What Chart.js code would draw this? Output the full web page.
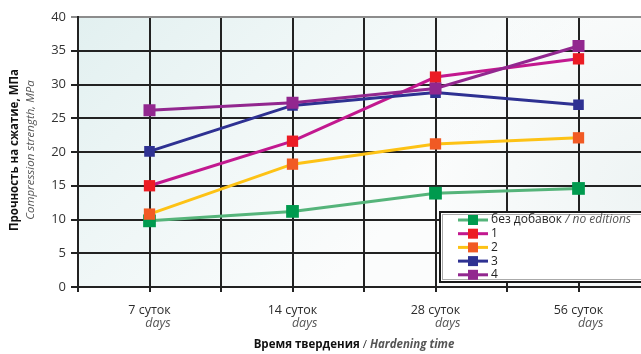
<!DOCTYPE html>
<html>
<head>
<meta charset="utf-8">
<script src="https://cdn.jsdelivr.net/npm/chart.js@4/dist/chart.umd.min.js"></script>
<style>
  html, body { margin: 0; padding: 0; background: #fff; overflow: hidden; }
  #wrap { width: 660px; height: 354px; }
</style>
</head>
<body>
<div id="wrap"><canvas id="c" width="660" height="354"></canvas></div>
<script>
// Hardening time, days
const categories = ['7', '14', '28', '56'];
const unitRu = 'суток';
const unitEn = 'days';

// Compressive strength, MPa
const noAdditive = [9.8, 11.2, 13.9, 14.6];
const mix1 = [15.0, 21.6, 31.1, 33.8];
const mix2 = [10.8, 18.2, 21.2, 22.1];
const mix3 = [20.1, 26.9, 28.8, 27.0];
const mix4 = [26.2, 27.3, 29.4, 35.7];

const seriesNames = ['без добавок', '1', '2', '3', '4'];
const seriesNotes = [' / no editions', '', '', '', ''];
const yMin = 0, yMax = 40, yStep = 5;

const FONT = '"Open Sans", "Noto Sans", sans-serif';

const lineColors = ['#55b47a', '#c2188f', '#fdc215', '#2e3192', '#92278f'];
const markColors = ['#009a4e', '#ec1c24', '#f15a24', '#2e3192', '#92278f'];
const markRadius = [9, 8, 8, 7.5, 8.5];
const seriesData = [noAdditive, mix1, mix2, mix3, mix4];

const datasets = seriesData.map((d, i) => ({
  label: seriesNames[i],
  data: d,
  borderColor: lineColors[i],
  backgroundColor: markColors[i],
  pointBackgroundColor: markColors[i],
  pointBorderWidth: 0,
  pointStyle: 'rect',
  pointRadius: markRadius[i],
  borderWidth: 3,
  tension: 0,
  xAxisID: 'x',
  order: 4 - i
}));

// light teal wash behind the plot, strongest in the upper left corner
const plotBackground = {
  id: 'plotBackground',
  beforeDraw(chart) {
    const { ctx, chartArea: a } = chart;
    ctx.save();
    ctx.fillStyle = '#fbfcfc';
    ctx.fillRect(a.left, a.top, a.right - a.left, a.bottom - a.top);
    const g = ctx.createLinearGradient(a.left, a.top, a.left + 260, a.top + 260);
    g.addColorStop(0, '#e2f0f0');
    g.addColorStop(0.45, '#eef6f6');
    g.addColorStop(1, '#fbfcfc');
    ctx.fillStyle = g;
    ctx.fillRect(a.left, a.top, a.right - a.left, a.bottom - a.top);
    const r = ctx.createRadialGradient(a.right, a.top + 170, 10, a.right, a.top + 170, 220);
    r.addColorStop(0, 'rgba(228,238,238,0.55)');
    r.addColorStop(1, 'rgba(228,238,238,0)');
    ctx.fillStyle = r;
    ctx.fillRect(a.left, a.top, a.right - a.left, a.bottom - a.top);
    ctx.restore();
  }
};

// axis titles, two-line category labels and the boxed legend
const annotations = {
  id: 'annotations',
  afterDraw(chart) {
    const { ctx } = chart;
    const xs = chart.scales.x;
    ctx.save();
    ctx.textBaseline = 'middle';

    // category labels
    categories.forEach((c, i) => {
      const px = xs.getPixelForValue(i);
      const top = c + ' ' + unitRu;
      ctx.font = '12.5px ' + FONT;
      ctx.fillStyle = '#2b2b2b';
      ctx.textAlign = 'center';
      ctx.fillText(top, px, 310);
      const w = ctx.measureText(top).width;
      ctx.font = 'italic 12.5px ' + FONT;
      ctx.fillStyle = '#555';
      ctx.textAlign = 'right';
      ctx.fillText(unitEn, px + w / 2, 323);
    });

    // x title
    const p1 = 'Время твердения', p2 = ' / ', p3 = 'Hardening time';
    ctx.font = 'bold 11.5px ' + FONT;
    const w1 = ctx.measureText(p1).width;
    ctx.font = '11.5px ' + FONT;
    const w2 = ctx.measureText(p2).width;
    ctx.font = 'italic bold 11.5px ' + FONT;
    const w3 = ctx.measureText(p3).width;
    let sx = 354 - (w1 + w2 + w3) / 2;
    ctx.textAlign = 'left';
    ctx.font = 'bold 11.5px ' + FONT; ctx.fillStyle = '#111';
    ctx.fillText(p1, sx, 345); sx += w1;
    ctx.font = '11.5px ' + FONT; ctx.fillStyle = '#333';
    ctx.fillText(p2, sx, 345); sx += w2;
    ctx.font = 'italic bold 11.5px ' + FONT; ctx.fillStyle = '#555';
    ctx.fillText(p3, sx, 345);

    // y title
    ctx.save();
    ctx.translate(15, 150);
    ctx.rotate(-Math.PI / 2);
    ctx.textAlign = 'center';
    ctx.font = 'bold 11.5px ' + FONT; ctx.fillStyle = '#111';
    ctx.fillText('Прочность на сжатие, МПа', 0, 0);
    ctx.font = 'italic 11.5px ' + FONT; ctx.fillStyle = '#555';
    ctx.fillText('Compression strength, MPa', 0, 16);
    ctx.restore();

    // legend
    const lx = 440, ly = 212, lw = 230, lh = 70;
    ctx.fillStyle = '#fff';
    ctx.fillRect(lx, ly, lw, lh);
    ctx.strokeStyle = '#aaa';
    ctx.lineWidth = 1;
    ctx.strokeRect(lx + 2.5, ly + 2.5, lw - 5, lh - 5);
    ctx.strokeStyle = '#1a1a1a';
    ctx.lineWidth = 2;
    ctx.strokeRect(lx, ly, lw, lh);
    seriesNames.forEach((name, i) => {
      const y = 220 + i * 13.7;
      ctx.strokeStyle = lineColors[i];
      ctx.lineWidth = 3;
      ctx.beginPath();
      ctx.moveTo(458, y); ctx.lineTo(488, y);
      ctx.stroke();
      ctx.fillStyle = markColors[i];
      ctx.fillRect(468, y - 5, 10, 10);
      ctx.textAlign = 'left';
      ctx.font = '12px ' + FONT;
      ctx.fillStyle = '#222';
      ctx.fillText(name, 491, y);
      if (seriesNotes[i]) {
        const nw = ctx.measureText(name).width;
        ctx.font = 'italic 12px ' + FONT;
        ctx.fillStyle = '#555';
        ctx.fillText(seriesNotes[i], 491 + nw, y);
      }
    });
    ctx.restore();
  }
};

new Chart(document.getElementById('c'), {
  type: 'line',
  data: { labels: categories, datasets },
  options: {
    responsive: false,
    animation: false,
    layout: { padding: { top: 17, right: 10, left: 0, bottom: 0 } },
    plugins: { legend: { display: false }, tooltip: { enabled: false } },
    scales: {
      x: {
        type: 'category',
        position: 'bottom',
        weight: 1,
        offset: true,
        grid: { offset: true, color: '#222', lineWidth: 2, tickLength: 5 },
        border: { color: '#222', width: 2 },
        ticks: { display: false },
        afterFit(s) { s.height = 67; }
      },
      x2: {
        type: 'category',
        position: 'bottom',
        weight: 0,
        offset: true,
        grid: { offset: false, color: '#222', lineWidth: 2, tickLength: 5 },
        border: { display: false },
        ticks: { display: false },
        afterFit(s) { s.height = 0; }
      },
      y: {
        type: 'linear',
        min: yMin,
        max: yMax,
        ticks: { stepSize: yStep, color: '#333', font: { size: 13, family: FONT }, padding: 5 },
        grid: {
          color: (c) => (c.tick && c.tick.value === yMax ? '#8c8c8c' : '#222'),
          lineWidth: 2,
          tickLength: 7
        },
        border: { color: '#222', width: 2 },
        afterFit(s) { s.width = 78; }
      }
    }
  },
  plugins: [plotBackground, annotations]
});
</script>
</body>
</html>
